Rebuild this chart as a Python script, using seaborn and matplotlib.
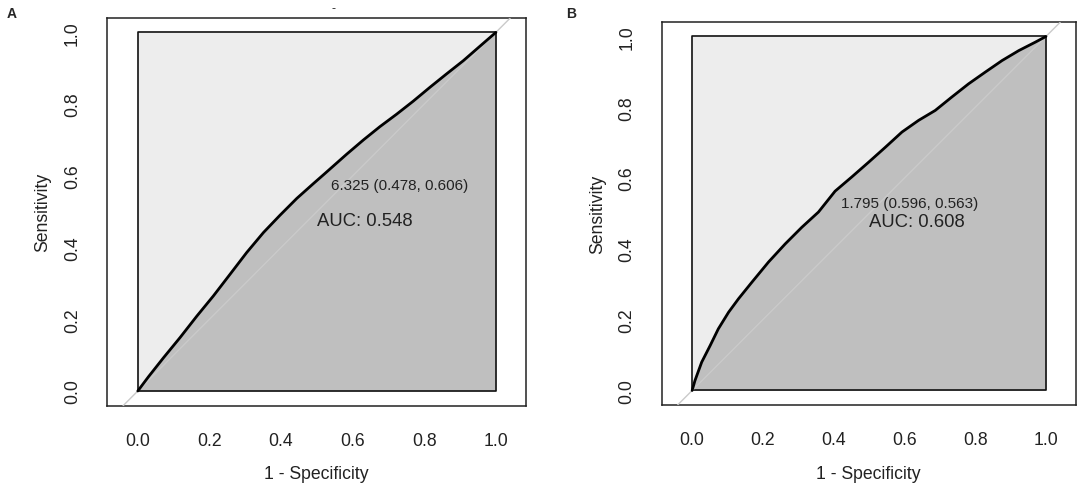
import numpy as np
import pandas as pd
import matplotlib
matplotlib.use("Agg")
import matplotlib.pyplot as plt
import seaborn as sns

# ROC curve points (1 - specificity, sensitivity)
fpr_a = [0.0, 0.030, 0.072, 0.118, 0.165, 0.211, 0.258, 0.304, 0.351, 0.397, 0.444, 0.490,
         0.522, 0.583, 0.630, 0.676, 0.723, 0.769, 0.816, 0.862, 0.909, 0.955, 1.0]
tpr_a = [0.0, 0.040, 0.093, 0.149, 0.209, 0.265, 0.326, 0.386, 0.442, 0.490, 0.537, 0.578,
         0.606, 0.660, 0.700, 0.737, 0.772, 0.808, 0.847, 0.884, 0.921, 0.961, 1.0]

fpr_b = [0.0, 0.008, 0.027, 0.051, 0.074, 0.103, 0.131, 0.169, 0.216, 0.263, 0.310, 0.357,
         0.404, 0.451, 0.499, 0.546, 0.593, 0.640, 0.687, 0.734, 0.781, 0.828, 0.876, 0.923,
         0.970, 1.0]
tpr_b = [0.0, 0.028, 0.080, 0.127, 0.174, 0.221, 0.259, 0.306, 0.363, 0.414, 0.461, 0.504,
         0.563, 0.603, 0.645, 0.687, 0.730, 0.763, 0.791, 0.829, 0.866, 0.899, 0.932, 0.960,
         0.984, 1.0]

# best threshold (threshold, specificity, sensitivity) and AUC
best_a = (6.325, 0.478, 0.606)
best_b = (1.795, 0.596, 0.563)
auc_a = 0.548
auc_b = 0.608

panel_labels = ["A", "B"]
tick_vals = [0.0, 0.2, 0.4, 0.6, 0.8, 1.0]
tick_text = ["0.0", "0.2", "0.4", "0.6", "0.8", "1.0"]

sns.set_style("white")
plt.rcParams["font.family"] = ["Liberation Sans", "DejaVu Sans"]
plt.rcParams["axes.edgecolor"] = "#222222"
plt.rcParams["axes.linewidth"] = 1.1

W, H = 1084, 489
fig = plt.figure(figsize=(W / 100, H / 100), dpi=100)
boxes = [(107, 19, 526, 406.7), (661.7, 23.3, 1075.7, 406)]

curves = [(fpr_a, tpr_a, best_a, auc_a), (fpr_b, tpr_b, best_b, auc_b)]

for i, ((x0, y0, x1, y1), (fpr, tpr, best, auc)) in enumerate(zip(boxes, curves)):
    ax = fig.add_axes([x0 / W, 1 - y1 / H, (x1 - x0) / W, (y1 - y0) / H])
    df = pd.DataFrame({"fpr": fpr, "tpr": tpr})

    # AUC polygon and max-AUC polygon
    ax.fill_between(df["fpr"], df["tpr"], 1, color="#ededed", lw=0, zorder=1)
    ax.fill_between(df["fpr"], df["tpr"], 0, color="#bfbfbf", lw=0, zorder=1)
    ax.plot([0, 1, 1, 0, 0], [0, 0, 1, 1, 0], color="#111111", lw=1.2, zorder=2)
    ax.axline((0, 0), (1, 1), color="#cacaca", lw=1, zorder=3)

    sns.lineplot(data=df, x="fpr", y="tpr", sort=False, estimator=None,
                 color="black", lw=2.0, ax=ax, zorder=4)

    thr, spec, sens = best
    ax.annotate(f"{thr:.3f} ({spec:.3f}, {sens:.3f})", xy=(1 - spec, sens),
                xytext=(4.5, -8.5), textcoords="offset points",
                ha="left", va="center", fontsize=11, color="#222222", zorder=5)
    ax.text(0.5, 0.5, f"AUC: {auc:.3f}", ha="left", va="top", fontsize=13.3,
            color="#222222", zorder=5)

    ax.set_xlim(-0.086, 1.084)
    ax.set_ylim(-0.041, 1.04)
    ax.set_xticks(tick_vals)
    ax.set_xticklabels(tick_text)
    ax.set_yticks(tick_vals)
    ax.set_yticklabels(tick_text, rotation=90, va="center")
    ax.tick_params(axis="both", direction="out", length=7.7, width=1.1,
                   labelsize=12.7, pad=11, colors="#222222")
    ax.set_xlabel("1 - Specificity", fontsize=12.7, labelpad=12, color="#222222")
    ax.set_ylabel("Sensitivity", fontsize=12.7, labelpad=9, color="#222222")
    for s in ax.spines.values():
        s.set_visible(True)

    fig.text((7 if i == 0 else 566) / W, 1 - 13.5 / H, panel_labels[i],
             fontsize=10, fontweight="bold", va="center", ha="left")

fig.text(333 / W, 1 - 9 / H, "-", fontsize=9, ha="center", va="center")

fig.savefig("out.png", dpi=100)
